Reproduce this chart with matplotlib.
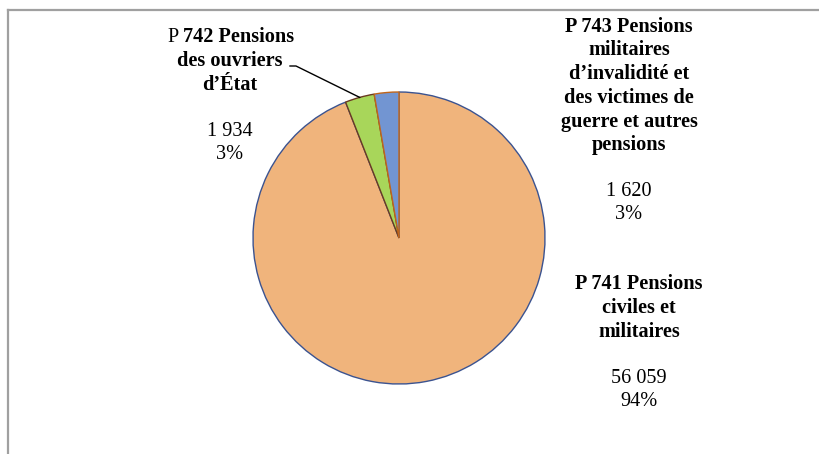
import matplotlib
matplotlib.use("Agg")
import matplotlib.pyplot as plt
import numpy as np

categories = ["P 741 Pensions civiles et militaires",
              "P 742 Pensions des ouvriers d\u2019\u00c9tat",
              "P 743 Pensions militaires d\u2019invalidit\u00e9 et des victimes de guerre et autres pensions"]
values = [56059, 1934, 1620]
fill_colors = ["#F0B47C", "#A8D65A", "#7295D2"]
edge_colors = ["#3B5390", "#6A3A22", "#C0651A"]

W, H = 820, 454
fig = plt.figure(figsize=(W / 100, H / 100), dpi=100)
plt.rcParams['font.family'] = ['Liberation Serif', 'DejaVu Serif']

def fx(px):
    return px / W

def fy(py):
    return 1 - py / H

# frame (top and left only)
fig.add_artist(plt.Line2D([fx(8), fx(820)], [fy(10), fy(10)], color="#A0A0A0", lw=1.6))
fig.add_artist(plt.Line2D([fx(8), fx(8)], [fy(10), fy(454)], color="#A0A0A0", lw=1.6))

cx, cy, r = 399, 238, 146
ax = fig.add_axes([fx(cx - r), (H - cy - r) / H, 2 * r / W, 2 * r / H])
wedges, _ = ax.pie(values, colors=fill_colors, startangle=90, counterclock=False,
                   wedgeprops=dict(linewidth=1.0))
for w, ec in zip(wedges, edge_colors):
    w.set_edgecolor(ec)
ax.set_xlim(-1, 1)
ax.set_ylim(-1, 1)
ax.set_axis_off()

total = sum(values)
def val_label(v):
    s = f"{v:,}".replace(",", " ")
    return f"{s}\n{round(100 * v / total)}%"

fs = 14.6
ls = 1.25

# P743 label
fig.text(fx(629), fy(86), "P 743 Pensions\nmilitaires\nd\u2019invalidit\u00e9 et\ndes victimes de\nguerre et autres\npensions",
         ha="center", va="center", fontsize=fs, fontweight="bold", linespacing=ls, multialignment="center")
fig.text(fx(629), fy(203), val_label(values[2]), ha="center", va="center", fontsize=fs,
         linespacing=ls, multialignment="center")

# P741 label
fig.text(fx(639), fy(308), "P 741 Pensions\nciviles et\nmilitaires",
         ha="center", va="center", fontsize=fs, fontweight="bold", linespacing=ls, multialignment="center")
fig.text(fx(639), fy(390), val_label(values[0]), ha="center", va="center", fontsize=fs,
         linespacing=ls, multialignment="center")

# P742 label (first line: regular "P" + bold rest)
renderer = fig.canvas.get_renderer()
tp = fig.text(0, 0, "P ", fontsize=fs, va="center", ha="left")
tb = fig.text(0, 0, "742 Pensions", fontsize=fs, fontweight="bold", va="center", ha="left")
wp = tp.get_window_extent(renderer).width
wb = tb.get_window_extent(renderer).width
x0 = 231 - (wp + wb) / 2
tp.set_position((fx(x0), fy(37)))
tb.set_position((fx(x0 + wp), fy(37)))
fig.text(fx(230), fy(73), "des ouvriers\nd\u2019\u00c9tat", ha="center", va="center", fontsize=fs,
         fontweight="bold", linespacing=ls, multialignment="center")
fig.text(fx(230), fy(143), val_label(values[1]), ha="center", va="center", fontsize=fs,
         linespacing=ls, multialignment="center")

# leader line for P742
w = wedges[1]
mid = np.deg2rad((w.theta1 + w.theta2) / 2)
ex, ey = np.cos(mid), np.sin(mid)
sx, sy = (296 - cx) / r, (cy - 66) / r
ax.plot([(290 - cx) / r, sx, ex], [sy, sy, ey], color="black", lw=1.0, clip_on=False)

fig.savefig("out.png", dpi=100)
